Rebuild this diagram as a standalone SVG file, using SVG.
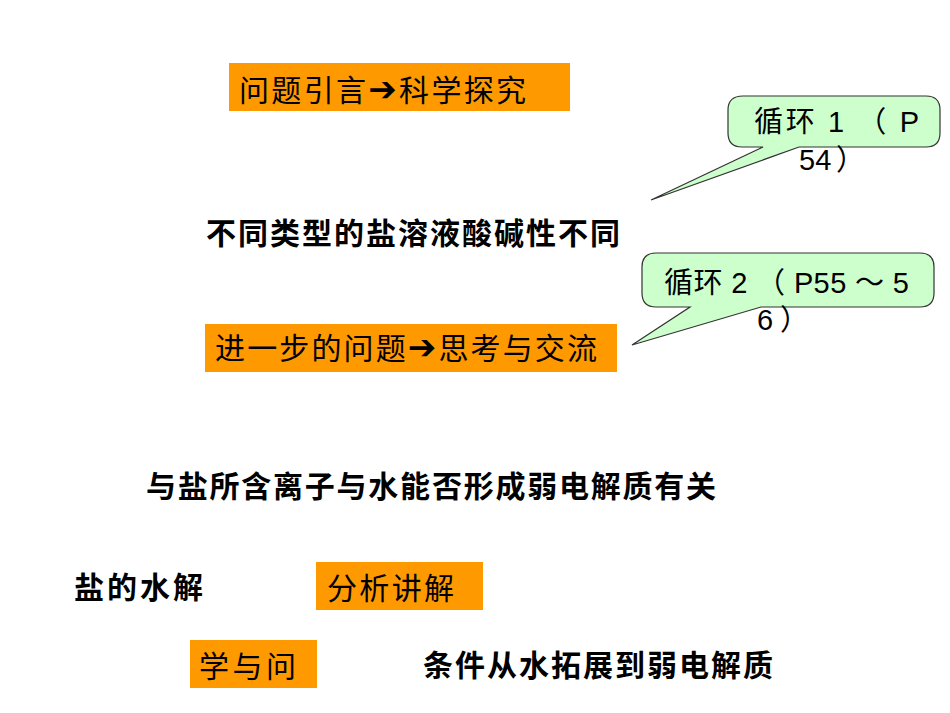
<svg xmlns="http://www.w3.org/2000/svg" width="950" height="713" viewBox="0 0 950 713">
<style>
.box{fill:#FF9900;}
.bt{font-family:"Noto Sans CJK SC","Noto Sans",sans-serif;font-size:30px;fill:#000;}
.ar{font-family:"DejaVu Sans",sans-serif;font-size:34px;}
.hd{font-family:"Noto Sans CJK SC","Noto Sans",sans-serif;font-size:30px;font-weight:bold;fill:#000;}
.co{fill:#CCFFCC;stroke:#333;stroke-width:1.2;}
.ct{font-family:"Liberation Sans","Noto Sans CJK SC",sans-serif;font-size:29px;fill:#000;}
</style>
<rect width="950" height="713" fill="#fff"/>
<g id="box-intro">
<rect class="box" x="229" y="63" width="341" height="48"/>
<text class="bt" x="239" y="101" textLength="287" lengthAdjust="spacing">问题引言<tspan class="ar">➔</tspan>科学探究</text>
</g>
<g id="callout-1">
<path class="co" d="M743,96 H926 Q940,96 940,110 V133 Q940,147 926,147 H799 L651,200 L763,147 H742 Q728,147 728,133 V110 Q728,96 743,96 Z"/>
<text class="ct" x="754" y="132" textLength="165" lengthAdjust="spacing">循环 1 （ P</text>
<text class="ct" x="799" y="170">54<tspan x="836">）</tspan></text>
</g>
<g id="text-1">
<text class="hd" x="206" y="244" textLength="414" lengthAdjust="spacing">不同类型的盐溶液酸碱性不同</text>
</g>
<g id="callout-2">
<path class="co" d="M656,253 H920 Q934,253 934,267 V293 Q934,307 920,307 H761 L632,345 L690,307 H656 Q642,307 642,293 V267 Q642,253 656,253 Z"/>
<text class="ct" x="664" y="293" textLength="245" lengthAdjust="spacing">循环 2 （ P55 ～ 5</text>
<text class="ct" x="757" y="330">6<tspan x="780">）</tspan></text>
</g>
<g id="box-further">
<rect class="box" x="205" y="324" width="412" height="48"/>
<text class="bt" x="215" y="359" textLength="382" lengthAdjust="spacing">进一步的问题<tspan class="ar">➔</tspan>思考与交流</text>
</g>
<g id="text-2">
<text class="hd" x="146" y="497" textLength="570" lengthAdjust="spacing">与盐所含离子与水能否形成弱电解质有关</text>
</g>
<g id="text-3">
<text class="hd" x="74" y="598" textLength="129" lengthAdjust="spacing">盐的水解</text>
</g>
<g id="box-analysis">
<rect class="box" x="316" y="562" width="167" height="48"/>
<text class="bt" x="327" y="599" textLength="127" lengthAdjust="spacing">分析讲解</text>
</g>
<g id="box-learn">
<rect class="box" x="190" y="640" width="127" height="48"/>
<text class="bt" x="199" y="677" textLength="97" lengthAdjust="spacing">学与问</text>
</g>
<g id="text-4">
<text class="hd" x="423" y="676" textLength="350" lengthAdjust="spacing">条件从水拓展到弱电解质</text>
</g>
<g id="connectors"></g>
</svg>
